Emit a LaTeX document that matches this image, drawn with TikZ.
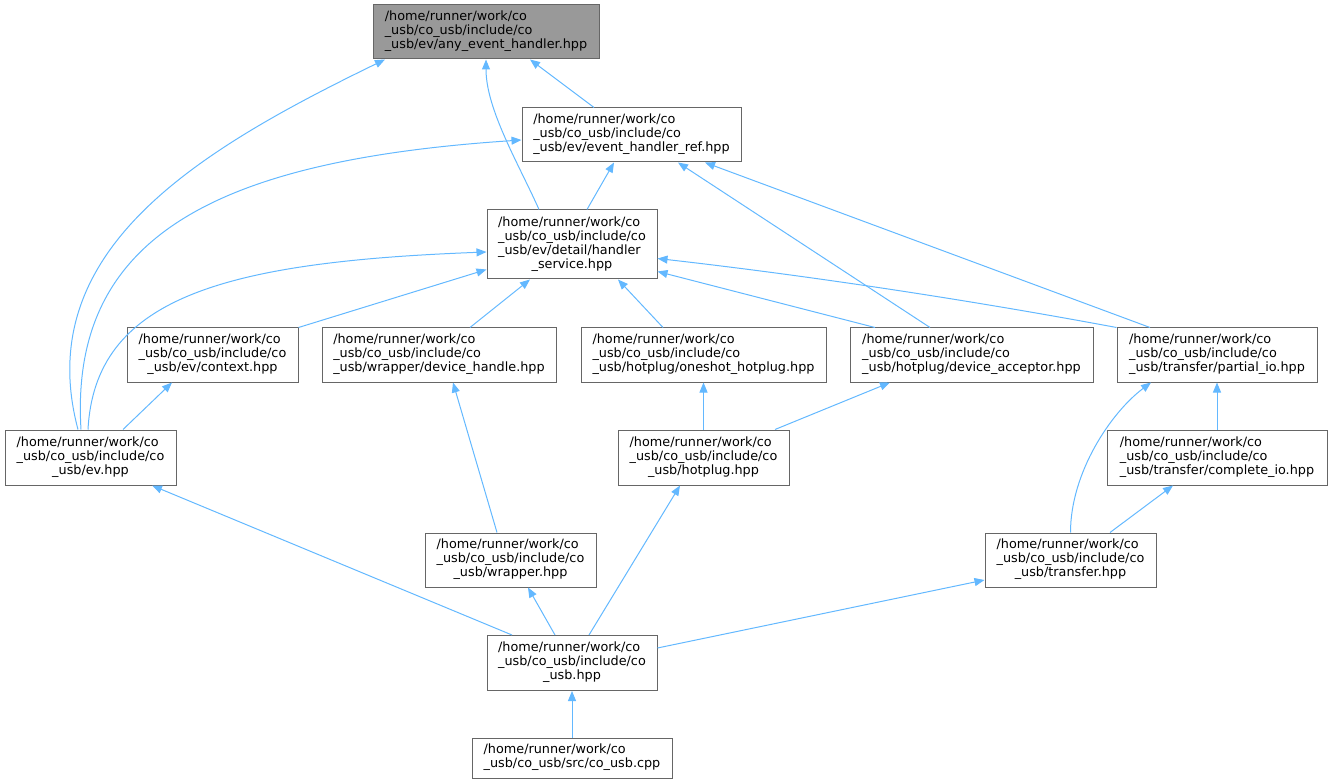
\documentclass[tikz,border=0pt]{standalone}
\usepackage{fontspec}
\setmainfont{DejaVu Sans}
\usetikzlibrary{arrows.meta,calc}
\definecolor{boxgray}{HTML}{666666}
\definecolor{topfill}{HTML}{999999}
\definecolor{edgeblue}{HTML}{63B8FF}
\newcommand{\flabel}[2]{\begin{tabular}{@{}l@{}}#1\\\multicolumn{1}{@{}c@{}}{#2}\end{tabular}}
\newcommand{\hd}{/home/runner/work/co\\\_usb/co\_usb/include/co}

\begin{document}
\begin{tikzpicture}[x=0.75pt,y=-0.75pt,
  file/.style={draw=boxgray, fill=white, line width=0.75pt, inner sep=0pt,
    minimum height=40.5pt, font=\fontsize{9.6}{10.5}\selectfont},
  edge/.style={draw=edgeblue, line width=0.75pt, -{Triangle[length=7.5pt,width=6pt]}}]
\useasboundingbox (0,0) rectangle (1332,784);
% files
\node[file, fill=topfill, minimum width=169.5pt] (any) at (486,32) {\flabel{\hd}{\_usb/ev/any\_event\_handler.hpp}};
\node[file, minimum width=164.25pt] (ref) at (631.5,135) {\flabel{\hd}{\_usb/ev/event\_handler\_ref.hpp}};
\node[file, minimum width=127.5pt, minimum height=51.75pt] (svc) at (572,244.5) {\flabel{\hd\\\_usb/ev/detail/handler}{\_service.hpp}};
\node[file, minimum width=128.25pt] (ctx) at (212.5,355) {\flabel{\hd}{\_usb/ev/context.hpp}};
\node[file, minimum width=175.5pt] (devh) at (439,355) {\flabel{\hd}{\_usb/wrapper/device\_handle.hpp}};
\node[file, minimum width=183.75pt] (one) at (703.5,355) {\flabel{\hd}{\_usb/hotplug/oneshot\_hotplug.hpp}};
\node[file, minimum width=182.25pt] (acc) at (971.5,355) {\flabel{\hd}{\_usb/hotplug/device\_acceptor.hpp}};
\node[file, minimum width=150pt] (pio) at (1217,355) {\flabel{\hd}{\_usb/transfer/partial\_io.hpp}};
\node[file, minimum width=128.25pt, minimum height=41.25pt] (ev) at (90.5,457.5) {\flabel{\hd}{\_usb/ev.hpp}};
\node[file, minimum width=128.25pt, minimum height=41.25pt] (hot) at (703.5,457.5) {\flabel{\hd}{\_usb/hotplug.hpp}};
\node[file, minimum width=165pt, minimum height=41.25pt] (cio) at (1217,457.5) {\flabel{\hd}{\_usb/transfer/complete\_io.hpp}};
\node[file, minimum width=128.25pt] (wrp) at (510.5,560) {\flabel{\hd}{\_usb/wrapper.hpp}};
\node[file, minimum width=128.25pt] (trf) at (1070.5,560) {\flabel{\hd}{\_usb/transfer.hpp}};
\node[file, minimum width=127.5pt, minimum height=41.25pt] (usb) at (572,663) {\flabel{\hd}{\_usb.hpp}};
\node[file, minimum width=150pt, minimum height=30pt] (cpp) at (572,758) {\flabel{/home/runner/work/co}{\_usb/co\_usb/src/co\_usb.cpp}};
% includes
\draw[edge] ($(ev.north)+(-12.5,0)$) .. controls +(-48,-180) and +(-185,90) .. ($(any.south)+(-101,0)$);
\draw[edge] ($(svc.north)+(-33,0)$) .. controls +(-20,-45) and +(0,50) .. (any.south);
\draw[edge] ($(ref.north)+(-37.5,0)$) -- ($(any.south)+(44,0)$);
\draw[edge] ($(ev.north)+(-9.5,0)$) .. controls +(-12,-195) and +(-302,20) .. ($(ref.west)+(0,5)$);
\draw[edge] ($(svc.north)+(15,0)$) -- ($(ref.south)+(-17.5,0)$);
\draw[edge] ($(acc.north)+(-41.5,0)$) -- ($(ref.south)+(46.5,0)$);
\draw[edge] ($(pio.north)+(-67,0)$) -- ($(ref.south)+(73.5,0)$);
\draw[edge] ($(ev.north)+(-2.5,0)$) .. controls +(7,-130) and +(-267,10) .. ($(svc.west)+(0,7.5)$);
\draw[edge] (ctx.north east) -- ($(svc.west)+(0,25)$);
\draw[edge] ($(devh.north)+(31,0)$) -- ($(svc.south)+(-42,0)$);
\draw[edge] ($(one.north)+(-40.5,0)$) -- ($(svc.south)+(46,0)$);
\draw[edge] ($(acc.north)+(-96.5,0)$) -- ($(svc.east)+(0,27)$);
\draw[edge] (pio.north west) .. controls +(-150,-28) and +(150,17) .. ($(svc.east)+(0,14)$);
\draw[edge] ($(ev.north)+(32.5,0)$) -- ($(ctx.south)+(-40.5,0)$);
\draw[edge] ($(wrp.north)+(-13.5,0)$) -- ($(devh.south)+(14,0)$);
\draw[edge] (hot.north) -- (one.south);
\draw[edge] ($(hot.north)+(71.5,0)$) -- ($(acc.south)+(-81.5,0)$);
\draw[edge] (trf.north) .. controls +(0,-60) and +(-40,30) .. ($(pio.south)+(-66,0)$);
\draw[edge] (cio.north) -- (pio.south);
\draw[edge] ($(trf.north)+(39.5,0)$) -- ($(cio.south)+(-44,0)$);
\draw[edge] ($(usb.north)+(-60,0)$) -- ($(ev.south)+(61.5,0)$);
\draw[edge] ($(usb.north)+(-17,0)$) -- ($(wrp.south)+(17.5,0)$);
\draw[edge] ($(usb.north)+(17,0)$) -- ($(hot.south)+(-23.5,0)$);
\draw[edge] ($(usb.east)+(0,-15)$) -- ($(trf.west)+(0,20)$);
\draw[edge] (cpp.north) -- (usb.south);
\end{tikzpicture}
\end{document}
